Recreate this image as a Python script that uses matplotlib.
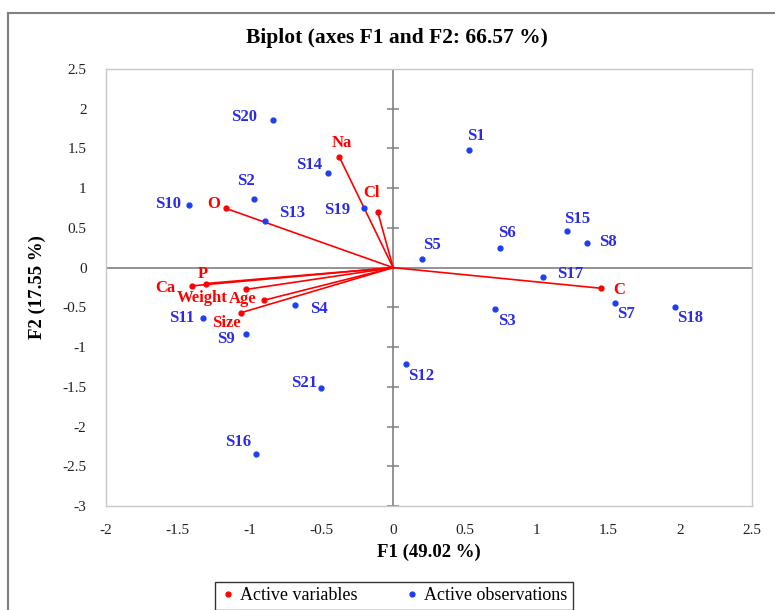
import numpy as np
import matplotlib.pyplot as plt
from matplotlib.lines import Line2D

plt.rcParams['font.family'] = ['Liberation Serif', 'DejaVu Serif']

# active variables (loadings scaled on F1/F2)
var_names = ['Na', 'Cl', 'O', 'P', 'Ca', 'Weight', 'Age', 'Size', 'C']
var_f1 = [-0.374, -0.106, -1.164, -1.304, -1.404, -1.027, -0.899, -1.059, 1.451]
var_f2 = [1.39, 0.695, 0.745, -0.20, -0.23, -0.275, -0.41, -0.567, -0.26]

# active observations
obs_names = ['S1', 'S2', 'S3', 'S4', 'S5', 'S6', 'S7', 'S8', 'S9', 'S10', 'S11',
             'S12', 'S13', 'S14', 'S15', 'S16', 'S17', 'S18', 'S19', 'S20', 'S21']
obs_f1 = [0.528, -0.969, 0.708, -0.682, 0.201, 0.747, 1.549, 1.351, -1.027, -1.421, -1.325,
          0.087, -0.889, -0.453, 1.211, -0.957, 1.043, 1.964, -0.206, -0.836, -0.502]
obs_f2 = [1.48, 0.87, -0.52, -0.47, 0.11, 0.25, -0.44, 0.31, -0.84, 0.79, -0.64,
          -1.21, 0.59, 1.19, 0.465, -2.35, -0.12, -0.50, 0.745, 1.86, -1.51]

xticks = [-2, -1.5, -1, -0.5, 0, 0.5, 1, 1.5, 2, 2.5]
yticks = [-3, -2.5, -2, -1.5, -1, -0.5, 0, 0.5, 1, 1.5, 2, 2.5]

# label offsets in pixels (dx, dy)
var_off = {'Na': (2, 14), 'Cl': (-6, 19), 'O': (-12, 4), 'P': (-3, 10), 'Ca': (-26, -2),
           'Weight': (-44, -9), 'Age': (-21, 1), 'Size': (-15, -10), 'C': (18, -2)}
obs_off = {'S1': (7, 14), 'S2': (-8, 18), 'S3': (12, -12), 'S4': (24, -4), 'S5': (10, 14),
           'S6': (7, 15), 'S7': (10, -11), 'S8': (21, 1), 'S9': (-20, -5), 'S10': (-21, 1),
           'S11': (-21, 0), 'S12': (16, -12), 'S13': (27, 8), 'S14': (-19, 8), 'S15': (10, 12),
           'S16': (-18, 12), 'S17': (27, 3), 'S18': (15, -11), 'S19': (-26, -2), 'S20': (-29, 3),
           'S21': (-17, 5)}

red = '#ff0000'
blue = '#1e3ff0'
lblue = '#2a2ae8'

fig = plt.figure(figsize=(7.75, 6.1), dpi=100)
ax = fig.add_axes([106 / 775, 1 - 506 / 610, 646 / 775, 437 / 610])

ax.set_xlim(-2, 2.5)
ax.set_ylim(-3, 2.5)
ax.axhline(0, color='#808080', lw=1.2, zorder=1)
ax.axvline(0, color='#808080', lw=1.2, zorder=1)
ax.plot(np.zeros(len(yticks)), yticks, ls='none', marker='_', ms=9, mew=1.1, color='#808080', zorder=1)

for name, x, y in zip(var_names, var_f1, var_f2):
    ax.plot([0, x], [0, y], color=red, lw=1.2, zorder=2)
ax.plot(var_f1, var_f2, 'o', color=red, ms=3.5, zorder=3)
for name, x, y in zip(var_names, var_f1, var_f2):
    ax.annotate(name, (x, y), xytext=var_off[name], textcoords='offset pixels',
                ha='center', va='center', color=red, fontsize=12, fontweight='bold')

ax.plot(obs_f1, obs_f2, 'o', color=blue, ms=3.5, zorder=3)
for name, x, y in zip(obs_names, obs_f1, obs_f2):
    ax.annotate(name, (x, y), xytext=obs_off[name], textcoords='offset pixels',
                ha='center', va='center', color=lblue, fontsize=12, fontweight='bold')

ax.set_xticks(xticks)
ax.set_xticklabels([f'{t:g}' for t in xticks])
ax.set_yticks(yticks)
ax.set_yticklabels([f'{t:g}' for t in yticks])
ax.tick_params(length=0, labelsize=11, colors='#222222')
ax.tick_params(axis='x', pad=13)
ax.tick_params(axis='y', pad=14)
for s in ax.spines.values():
    s.set_color('#c8c8c8')
    s.set_linewidth(1.0)

ax.set_xlabel('F1 (49.02 %)', fontsize=13.5, fontweight='bold', labelpad=5)
ax.set_ylabel('F2 (17.55 %)', fontsize=13.5, fontweight='bold', labelpad=12)
fig.text(397 / 775, 1 - 38 / 610, 'Biplot (axes F1 and F2: 66.57 %)', ha='center', va='center',
         fontsize=15.5, fontweight='bold')

handles = [Line2D([], [], ls='none', marker='o', ms=3.5, color=red),
           Line2D([], [], ls='none', marker='o', ms=3.5, color=blue)]
leg = fig.legend(handles, ['Active variables', 'Active observations'], loc='center',
                 bbox_to_anchor=(394 / 775, 1 - 596 / 610), ncol=2, frameon=True, fancybox=False,
                 fontsize=13, handlelength=0.8, handletextpad=0.3, columnspacing=2.6,
                 borderpad=0.3)
leg.get_frame().set_edgecolor('black')
leg.get_frame().set_linewidth(1.0)

# outer chart frame
fig.add_artist(Line2D([8 / 775, 8 / 775], [0, 1 - 13 / 610], color='#808080', lw=1.5))
fig.add_artist(Line2D([8 / 775, 1], [1 - 13 / 610, 1 - 13 / 610], color='#808080', lw=1.5))

fig.savefig('out.png', dpi=100)
